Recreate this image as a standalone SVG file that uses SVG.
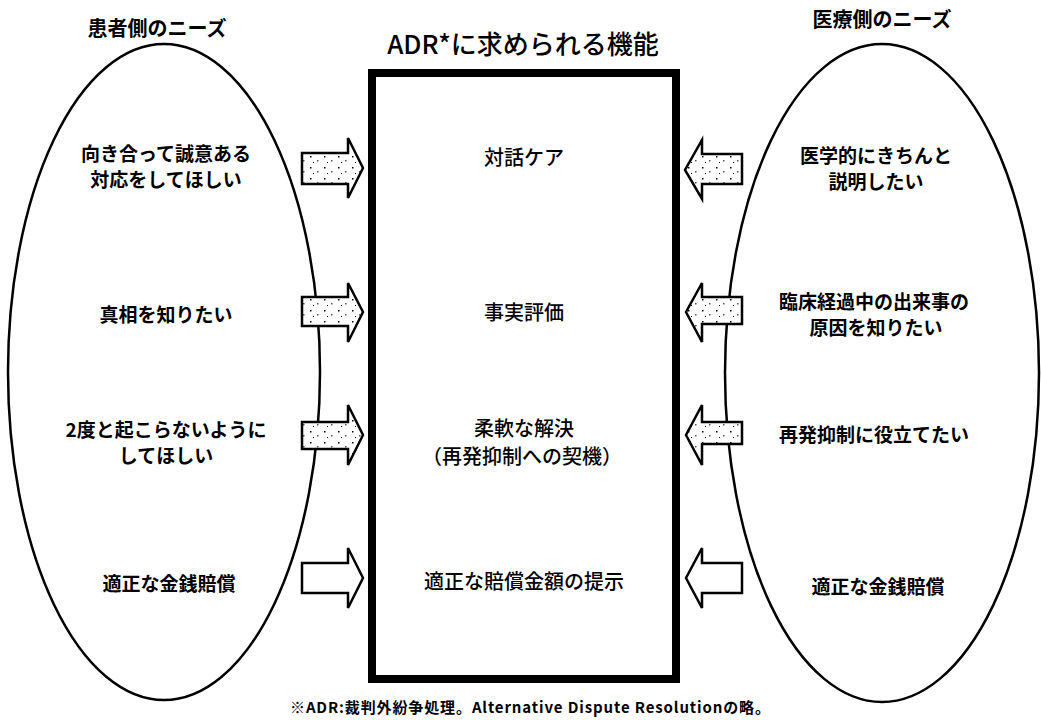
<svg xmlns="http://www.w3.org/2000/svg" width="1041" height="720" viewBox="0 0 1041 720">
<defs>
<pattern id="speck" width="14" height="11" patternUnits="userSpaceOnUse">
<rect width="14" height="11" fill="#fff"/>
<rect x="2" y="2" width="1.5" height="1.5" fill="#000"/>
<rect x="9" y="6" width="1.5" height="1.5" fill="#555"/>
<rect x="5" y="8" width="1" height="1" fill="#000"/>
</pattern>
<style>
.ell{fill:none;stroke:#000;stroke-width:2.5}
.box{fill:#fff;stroke:#000;stroke-width:8}
.arr{stroke:#000;stroke-width:2.5;stroke-linejoin:miter}
.sp{fill:url(#speck)}
.wh{fill:#fff}
.need{font-family:"Noto Sans CJK JP","Noto Sans",sans-serif;font-weight:bold;font-size:19px;fill:#000;text-anchor:middle;dominant-baseline:central}
.head{font-family:"Noto Sans CJK JP","Noto Sans",sans-serif;font-weight:bold;font-size:20px;fill:#000;text-anchor:middle;dominant-baseline:central}
.func{font-family:"Noto Sans CJK JP","Noto Sans",sans-serif;font-weight:500;font-size:20px;fill:#000;text-anchor:middle;dominant-baseline:central}
.title{font-family:"Noto Sans CJK JP","Noto Sans",sans-serif;font-weight:500;font-size:26px;fill:#000;text-anchor:middle;dominant-baseline:central}
.note{font-family:"Noto Sans CJK JP","Noto Sans",sans-serif;font-weight:bold;font-size:15px;fill:#000;text-anchor:middle;dominant-baseline:central}
</style>
</defs>
<rect width="1041" height="720" fill="#fff"/>

<g id="patient-needs">
<ellipse class="ell" cx="164" cy="372" rx="156" ry="328"/>
<text class="head" x="157" y="27">患者側のニーズ</text>
<text class="need" x="166" y="152">向き合って誠意ある</text>
<text class="need" x="166" y="178">対応をしてほしい</text>
<text class="need" x="166" y="313">真相を知りたい</text>
<text class="need" x="166" y="428">2度と起こらないように</text>
<text class="need" x="166" y="454">してほしい</text>
<text class="need" x="169" y="582">適正な金銭賠償</text>
</g>

<g id="medical-needs">
<ellipse class="ell" cx="882" cy="373" rx="157" ry="329"/>
<text class="head" x="882" y="18">医療側のニーズ</text>
<text class="need" x="876" y="154">医学的にきちんと</text>
<text class="need" x="876" y="180">説明したい</text>
<text class="need" x="874" y="300">臨床経過中の出来事の</text>
<text class="need" x="876" y="326">原因を知りたい</text>
<text class="need" x="874" y="433">再発抑制に役立てたい</text>
<text class="need" x="878" y="585">適正な金銭賠償</text>
</g>

<g id="adr-functions">
<text class="title" x="523" y="42">ADR*に求められる機能</text>
<rect class="box" x="372" y="73" width="304" height="606"/>
<text class="func" x="524" y="156">対話ケア</text>
<text class="func" x="524" y="311">事実評価</text>
<text class="func" x="524" y="427">柔軟な解決</text>
<text class="func" x="522" y="455">（再発抑制への契機）</text>
<text class="func" x="524" y="580">適正な賠償金額の提示</text>
</g>

<g id="connectors">
<path class="arr sp" d="M302,153 H348 V138 L363,168 L348,198 V184 H302 Z"/>
<path class="arr sp" d="M302,297 H348 V283 L363,312 L348,342 V326 H302 Z"/>
<path class="arr sp" d="M302,422 H348 V405 L363,435 L348,465 V449 H302 Z"/>
<path class="arr wh" d="M302,563 H348 V548 L363,578 L348,608 V593 H302 Z"/>
<path class="arr sp" d="M742,154 H702 V140 L685,170 L702,199 V184 H742 Z"/>
<path class="arr sp" d="M742,297 H702 V283 L686,312 L702,342 V324 H742 Z"/>
<path class="arr sp" d="M742,422 H702 V405 L686,435 L702,465 V444 H742 Z"/>
<path class="arr wh" d="M742,563 H702 V548 L686,578 L702,608 V593 H742 Z"/>
</g>

<g id="footnote">
<text class="note" x="530" y="706" textLength="480" lengthAdjust="spacing">※ADR:裁判外紛争処理。Alternative Dispute Resolutionの略。</text>
</g>
</svg>
